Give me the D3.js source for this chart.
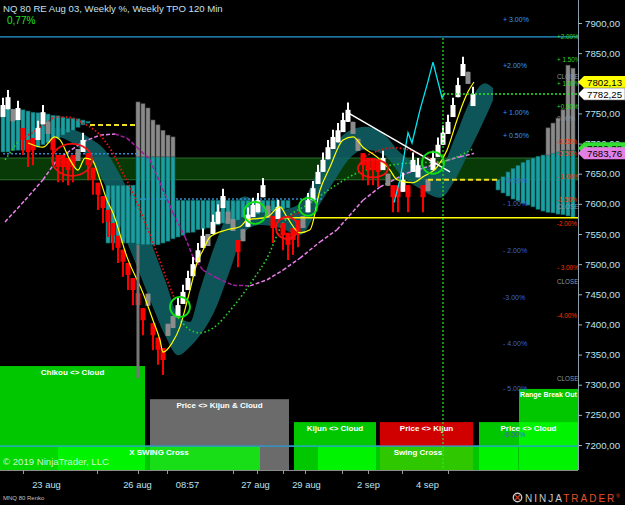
<!DOCTYPE html>
<html>
<head>
<meta charset="utf-8">
<script src="https://cdn.jsdelivr.net/npm/d3@7"></script>
<style>
  html, body { margin: 0; padding: 0; background: #000; }
  svg { display: block; font-family: "Liberation Sans", Arial, sans-serif; }
</style>
</head>
<body>
<div id="chart"></div>
<script>
// --- renko bars (one per bar index) ---
const barClose = [
  7764,7777,7747,7759,7706,7686,7689,7726,7752,7726,
  7689,7661,7661,7656,7661,7681,7706,7664,7640,7615,
  7593,7570,7548,7527,7504,7482,7457,7432,7407,7441,
  7382,7358,7341,7391,7404,7432,7454,7477,7500,7523,
  7547,7540,7570,7587,7613,7577,7565,7520,7548,7582,
  7598,7606,7631,7587,7560,7595,7548,7532,7540,7553,
  7570,7606,7626,7653,7673,7694,7711,7722,7739,7756,
  7726,7698,7664,7656,7656,7653,7676,7640,7611,7611,
  7640,7611,7673,7664,7611,7631,7676,7698,7718,7736,
  7764,7797,7832,7809,7782.25
];
// u = up (white), d = down (red), g = gray
const barKind = ("uuguddduug" + "dddddguddd" + "dddddddddg" + "dddgguuuuu" + "uguuuggdgu" +
                 "uuugdudddd" + "guuuuuuuuu" + "ggddddugdd" + "uduudguuuu" + "uuugu").split("");

// --- indicator lines (bar index, price) ---
const yellowIdx = [5,8,10.4,11.4,13.4,15,16.4,17.8,19.4,20.8,22,24.8,28,30,31.4,32,32.8,33.8,35.4,37.4,38.8,40,41.4,44.8,47.4,48.8,52.8,55.4,56.8,59.4,61.4,63.4,65.4,68,70,72,74.8,77.4,78.8,82,84,86.8,88.8,90.8,92,93,94.2];
const yellowVal = [7701,7694,7711,7706,7673,7656,7676,7673,7640,7606,7585,7512,7452,7407,7374,7354,7358,7369,7396,7457,7502,7523,7545,7557,7562,7573,7578,7595,7578,7552,7557,7623,7661,7706,7711,7694,7678,7656,7640,7635,7645,7661,7689,7739,7767,7786,7802.13];

const pinkIdx = [0.4,4.4,8,10.8,16,19.4,22.4,24.8,26.8,29.4,31.4,34,36.4,38,40,42.8,46,49.4,52.8,56,59.4,63.4,66.8,72,75.4,80.8,84,87.4,91.4,94.2];
const pinkVal = [7570,7606,7640,7673,7703,7714,7716,7709,7694,7673,7635,7585,7545,7512,7490,7477,7465,7464,7474,7490,7510,7537,7557,7606,7628,7651,7659,7669,7678,7683.76];

const redIdx = [4.4,7.4,10.8,12.8,16,19.4,22,24,26,28,30.8,32.8,34.4,34.5,55,59.4,59.5,72.4,75.4,78,81.4,84.4,87.4];
const redVal = [7711,7726,7744,7744,7734,7714,7684,7651,7618,7578,7518,7474,7441,null,7572,7586,null,7679,7689,7693,7689,7679,7668];

const greenIdx = [0.4,3,3.1,35,37.4,39.4,42,46,50,52.8,56,61.4,66,70.8,75.4,82,86.8,90.8,94.2];
const greenVal = [7673,7703,null,7411,7391,7386,7394,7429,7474,7510,7568,7601,7628,7651,7661,7668,7669,7678,7692.38];

const cyanIdx = [78.2,79.4,80.4,81,81.8,83.4,84.8,86,87.8,88.4];
const cyanVal = [7602,7640,7689,7718,7701,7756,7797,7835,7776,7784];

const trendIdx = [68.6, 89.4];
const trendVal = [7753, 7653];

// --- cloud ---
const cloudIdx = [10.4,14.4,17.4,20.4,23.4,26.4,29.4,32.4,35,37.4,39.4,42.4,45.4,48.4,51.4,55.4,59.4,63.4,66.4,69.4,72.4,76.4,79.4,83.4,87.4,90.4,93.4,96.4,98];
const cloudUp  = [7726,7722,7709,7689,7648,7598,7540,7474,7416,7404,7457,7532,7590,7612,7598,7590,7600,7660,7700,7722,7728,7714,7685,7665,7660,7710,7770,7800,7792];
const cloudLow = [7713,7698,7673,7631,7565,7504,7441,7382,7349,7363,7382,7424,7490,7555,7565,7560,7548,7600,7640,7676,7690,7680,7650,7625,7610,7640,7690,7742,7772];

// --- TPO profile columns ---
const profAStart = 0;
const profATop = [7759,7759,7757,7756,7756,7754,7752,7751,7751,7749,7747,7746,7744,7742,7742,7741,7739,7737];
const profABot = [7686,7686,7688,7689,7689,7691,7693,7694,7698,7701,7706,7709,7714,7718,7722,7727,7731,7734];
const profBStart = 21;
const profBTop = [7631,7631,7631,7631,7631,7631,7678,7678,7678,7678,7678,7678,7678,7678,
                  7606,7606,7606,7606,7606,7606,7606,7606,7606,7606,7606,7606,7606,7606,7606,7606,7606,7606,7606,7606,7606,7606,7606];
const profBBot = [7535,7535,7535,7535,7535,7535,7532,7532,7532,7532,7532,7535,7538,7542,7545,7548,7552,7553,7557,7558,7560,7563,7565,7568,7570,7572,7573,7577,7580,7582,7583,7585,7586,7588,7590,7591,7593];
const grayBStart = 27;
const grayBTop = [7769,7766,7759,7739,7731,7722,7714,7711];
const grayBBot = [7678,7678,7678,7678,7678,7678,7678,7678];
const stemIdx = [27];
const stemTop = [7532];
const stemBot = [7311];
const profCStart = 99;
const profCTop = [7640,7645,7653,7659,7664,7669,7673,7676,7679,7681,7684,7686,7689,7689,7689,7689];
const profCBot = [7623,7618,7613,7608,7605,7601,7598,7595,7591,7588,7586,7585,7583,7582,7580,7578];
const grayCStart = 109;
const grayCTop = [7726,7734,7742,7756,7830,7825];
const grayCBot = [7681,7684,7686,7689,7689,7689];

// --- levels ---
const valueArea = [7640, 7676];
const blueLevels = [7877, 7198];
const yellowSolid = { val: 7577, from: 56 };
const yellowDashVal = [7640, 7731];
const yellowDashFrom = [85, 17.4];
const yellowDashTo = [99, 26.8];
const blueDotVal = [7683, 7608];
const blueDotFrom = [0, 27.4];
const blueDotTo = [27, 64];
const nowIdx = 88;

// --- markers ---
const greenCircIdx = [35.4, 50.4, 61, 86];
const greenCircVal = [7429, 7585, 7595, 7668];
const greenCircR = [10, 11, 9, 11];
const redEllIdx = [13.8, 74, 56.8];
const redEllVal = [7673, 7659, 7560];
const redEllRx = [20, 15, 11];
const redEllRy = [16, 9, 11];

// --- weekly % labels ---
const pctLeftText = ["+ 3.00%","+2.00%","+ 1.00%","+ 0.50%","- 0.50%","- 1.00%","- 2.00%","-3.00%","- 4.00%","- 5.00%","-6.00%"];
const pctLeftVal = [7905,7830,7752,7714,7638,7600,7522,7445,7369,7293,7217];
const pctRightText = ["+2.00%","+ 1.50%","CLOSE","+ 1.00%","+0.50%","0.00%","-0.25%","-0.50%","- 1.00%","-1.50%","CLOSE","-2.00%","- 3.00%","CLOSE","-4.00%","CLOSE"];
const pctRightVal = [7877,7839,7812,7800,7761,7742,7704,7684,7646,7608,7595,7568,7495,7472,7414,7311];

// --- signal boxes ---
const boxLabel = ["Chikou <> Cloud", "", "Price <> Kijun & Cloud", "X SWING Cross", "Kijun <> Cloud", "Price <> Kijun", "Swing Cross", "Price <> Cloud", "Range Break Out"];
const boxFrom  = [-0.6, -0.6, 29.4, 11, 58.2, 75.4, 63, 95.2, 103.2];
const boxTo    = [28.4, 11, 57.2, 51.4, 74.6, 94, 103, 115, 115];
const boxTop   = [7331, 7198, 7276, 7198, 7238, 7238, 7198, 7238, 7293];
const boxColor = ["rgba(0,255,0,0.78)", "rgba(0,255,0,0.3)", "#6b6b6b", "rgba(0,255,0,0.78)", "rgba(0,255,0,0.78)",
                  "rgba(255,0,0,0.82)", "rgba(0,255,0,0.78)", "rgba(0,255,0,0.78)", "rgba(0,255,0,0.78)"];

// --- axes ---
const yTicks = [7200,7250,7300,7350,7400,7450,7500,7550,7600,7650,7700,7750,7800,7850,7900];
const xTicks = [4,18.8,27,32.8,46,50.8,56,60.4,67.8,73,79.8,89];
const xLabelIdx = [8.6,26.8,36.8,50.4,60.6,73,84.8];
const xLabelText = ["23 aug","26 aug","08:57","27 aug","29 aug","2 sep","4 sep"];

// --- price tags ---
const tagVal = [7802.13, 7782.25, 7692.38, 7683.76];
const tagFill = ["#ffff00", "#ffffff", "#33dd33", "#e37fe3"];

const W = 625, H = 505, plotW = 578, plotH = 470;
const x = d3.scaleLinear().domain([0, 115]).range([3, 578]);
const y = d3.scaleLinear().domain([7200, 7900]).range([445, 23]);
const fmt = v => d3.format(".2f")(v).replace(".", ",");

const svg = d3.select("#chart").append("svg").attr("width", W).attr("height", H);
svg.append("rect").attr("width", W).attr("height", H).attr("fill", "#000");
svg.append("clipPath").attr("id", "plotClip")
  .append("rect").attr("x", 0).attr("y", 0).attr("width", plotW).attr("height", plotH);
const plot = svg.append("g").attr("clip-path", "url(#plotClip)");

// value area band
plot.append("rect")
  .attr("x", -1).attr("width", plotW + 2)
  .attr("y", y(valueArea[1])).attr("height", y(valueArea[0]) - y(valueArea[1]))
  .attr("fill", "#073a07").attr("stroke", "#2e6e2e").attr("stroke-width", 1);

// cloud
const cloud = d3.zip(cloudIdx, cloudUp, cloudLow);
plot.append("path")
  .attr("d", d3.area().x(d => x(d[0])).y0(d => y(d[2])).y1(d => y(d[1])).curve(d3.curveMonotoneX)(cloud))
  .attr("fill", "#0f6468").attr("opacity", 0.85);

// profile columns
const drawCols = (start, tops, bots, fill, stroke) => {
  plot.append("g").selectAll("rect")
    .data(d3.zip(tops, bots))
    .enter().append("rect")
      .attr("x", (d, i) => x(start + i) - 2)
      .attr("width", 4)
      .attr("y", d => y(d[0]))
      .attr("height", d => y(d[1]) - y(d[0]))
      .attr("fill", fill).attr("stroke", stroke).attr("stroke-width", 0.6);
};
drawCols(profAStart, profATop, profABot, "#1c9fa0", "#0b5a5a");
drawCols(profBStart, profBTop, profBBot, "#1c9fa0", "#0b5a5a");
drawCols(profCStart, profCTop, profCBot, "#1c9fa0", "#0b5a5a");
drawCols(grayBStart, grayBTop, grayBBot, "#8a8a8a", "#555");
drawCols(grayCStart, grayCTop, grayCBot, "#8a8a8a", "#555");

// horizontal levels
blueLevels.forEach(v => plot.append("line")
  .attr("x1", 0).attr("x2", plotW).attr("y1", y(v)).attr("y2", y(v))
  .attr("stroke", "#2a9bd8").attr("stroke-width", 1.2));
blueDotVal.forEach((v, i) => plot.append("line")
  .attr("x1", x(blueDotFrom[i])).attr("x2", x(blueDotTo[i])).attr("y1", y(v)).attr("y2", y(v))
  .attr("stroke", "#2a8fd0").attr("stroke-width", 1.5).attr("stroke-dasharray", "2,2"));

// curves
const lineGen = d3.line().defined(d => d[1] != null).x(d => x(d[0])).y(d => y(d[1])).curve(d3.curveMonotoneX);
// magenta: pink while rising, purple while falling
for (let k = 0; k < pinkIdx.length - 1; k++) {
  plot.append("path")
    .attr("d", lineGen([[pinkIdx[k], pinkVal[k]], [pinkIdx[k + 1], pinkVal[k + 1]]]))
    .attr("fill", "none")
    .attr("stroke", pinkVal[k + 1] >= pinkVal[k] ? "#ea80ea" : "#a21ea2")
    .attr("stroke-width", 1.5).attr("stroke-dasharray", "4,2");
}
plot.append("path").attr("d", lineGen(d3.zip(redIdx, redVal)))
  .attr("fill", "none").attr("stroke", "#e01212").attr("stroke-width", 1.8).attr("stroke-dasharray", "1.6,2");
plot.append("path").attr("d", lineGen(d3.zip(greenIdx, greenVal)))
  .attr("fill", "none").attr("stroke", "#2ad02a").attr("stroke-width", 1.6).attr("stroke-dasharray", "1.6,2.4");

// renko bars
const bars = plot.append("g");
barClose.forEach((c, i) => {
  const k = barKind[i];
  const top = k === "u" ? c : (k === "d" ? c + 20 : c + 10);
  const bot = k === "u" ? c - 20 : (k === "d" ? c : c - 10);
  const col = k === "u" ? "#ffffff" : (k === "d" ? "#ff0000" : "#8c8c8c");
  // wick
  bars.append("line")
    .attr("x1", x(i)).attr("x2", x(i))
    .attr("y1", y(k === "u" ? top + 12 : top))
    .attr("y2", y(k === "d" ? bot - 25 : bot))
    .attr("stroke", col).attr("stroke-width", 2);
  bars.append("rect")
    .attr("x", x(i) - 2.5).attr("width", 5)
    .attr("y", y(top)).attr("height", y(bot) - y(top))
    .attr("fill", col);
});

// yellow, cyan, trendline
plot.append("path").attr("d", lineGen(d3.zip(yellowIdx, yellowVal)))
  .attr("fill", "none").attr("stroke", "#ffff00").attr("stroke-width", 1.2);
plot.append("path").attr("d", d3.line().x(d => x(d[0])).y(d => y(d[1]))(d3.zip(cyanIdx, cyanVal)))
  .attr("fill", "none").attr("stroke", "#00e6f0").attr("stroke-width", 1.3);
plot.append("path").attr("d", d3.line().x(d => x(d[0])).y(d => y(d[1]))(d3.zip(trendIdx, trendVal)))
  .attr("fill", "none").attr("stroke", "#ffffff").attr("stroke-width", 1.5);

// yellow levels
plot.append("line")
  .attr("x1", x(yellowSolid.from)).attr("x2", plotW).attr("y1", y(yellowSolid.val)).attr("y2", y(yellowSolid.val))
  .attr("stroke", "#ffff00").attr("stroke-width", 1.6);
yellowDashVal.forEach((v, i) => plot.append("line")
  .attr("x1", x(yellowDashFrom[i])).attr("x2", x(yellowDashTo[i])).attr("y1", y(v)).attr("y2", y(v))
  .attr("stroke", "#f0e020").attr("stroke-width", 2).attr("stroke-dasharray", "5,3"));

// circles
greenCircIdx.forEach((v, i) => plot.append("circle")
  .attr("cx", x(v)).attr("cy", y(greenCircVal[i])).attr("r", greenCircR[i])
  .attr("fill", "none").attr("stroke", "#10e010").attr("stroke-width", 1.8));
redEllIdx.forEach((v, i) => plot.append("ellipse")
  .attr("cx", x(v)).attr("cy", y(redEllVal[i])).attr("rx", redEllRx[i]).attr("ry", redEllRy[i])
  .attr("fill", "none").attr("stroke", "#f01010").attr("stroke-width", 1.8));

// signal boxes
boxLabel.forEach((t, i) => plot.append("rect")
  .attr("x", x(boxFrom[i])).attr("width", x(boxTo[i]) - x(boxFrom[i]))
  .attr("y", y(boxTop[i])).attr("height", plotH - y(boxTop[i]))
  .attr("fill", boxColor[i]));
plot.append("rect")
  .attr("x", x(stemIdx[0]) - 1.5).attr("width", 3)
  .attr("y", y(stemTop[0])).attr("height", y(stemBot[0]) - y(stemTop[0]))
  .attr("fill", "#777");
boxLabel.forEach((t, i) => {
  if (!t) return;
  plot.append("text")
    .attr("x", (x(boxFrom[i]) + x(Math.min(boxTo[i], 115))) / 2)
    .attr("y", y(boxTop[i]) + 8.5)
    .attr("text-anchor", "middle")
    .attr("font-size", t === "Range Break Out" ? 7 : 8)
    .attr("font-weight", "bold").attr("fill", "#fff")
    .text(t);
});
// blue level line crosses the boxes
plot.append("line").attr("x1", 0).attr("x2", plotW).attr("y1", y(blueLevels[1])).attr("y2", y(blueLevels[1]))
  .attr("stroke", "#2a9bd8").attr("stroke-width", 1.2);

// now lines
const lastClose = barClose[barClose.length - 1];
plot.append("line")
  .attr("x1", x(nowIdx)).attr("x2", plotW).attr("y1", y(lastClose)).attr("y2", y(lastClose))
  .attr("stroke", "#22ee22").attr("stroke-width", 1.3).attr("stroke-dasharray", "2,2");
plot.append("line")
  .attr("x1", x(nowIdx)).attr("x2", x(nowIdx)).attr("y1", 38).attr("y2", plotH)
  .attr("stroke", "#22ee22").attr("stroke-width", 1.2).attr("stroke-dasharray", "2,2");

// weekly % labels
pctLeftText.forEach((t, i) => plot.append("text")
  .attr("x", 503).attr("y", y(pctLeftVal[i]) + 2.5)
  .attr("font-size", 7)
  .attr("fill", t.startsWith("+") ? "#3a9bea" : "#3c63d8")
  .text(t));
pctRightText.forEach((t, i) => plot.append("text")
  .attr("x", 557).attr("y", y(pctRightVal[i]) + 2.5)
  .attr("font-size", 6.3)
  .attr("fill", t.startsWith("+") ? "#2ed82e" : (t.startsWith("-") ? "#ff3000" : "#8a97a6"))
  .text(t));

// copyright
plot.append("text").attr("x", 3).attr("y", 465)
  .attr("font-size", 9.6).attr("fill", "rgba(255,255,255,0.8)")
  .text("\u00a9 2019 NinjaTrader, LLC");

// --- axes ---
svg.append("line").attr("x1", plotW + 0.5).attr("x2", plotW + 0.5).attr("y1", 0).attr("y2", plotH)
  .attr("stroke", "#8ea2ae").attr("stroke-width", 1);
svg.append("line").attr("x1", 0).attr("x2", plotW).attr("y1", plotH + 0.5).attr("y2", plotH + 0.5)
  .attr("stroke", "#8a8a8a").attr("stroke-width", 1);

const gy = svg.append("g")
  .attr("transform", `translate(${plotW},0)`)
  .call(d3.axisRight(y).tickValues(yTicks).tickSize(4).tickPadding(3).tickFormat(fmt));
gy.select(".domain").remove();
gy.selectAll("line").attr("stroke", "#9fb4c0");
gy.selectAll("text").attr("fill", "#b9e0f2").attr("font-size", 9.7)
  .attr("font-family", "'Liberation Sans', Arial, sans-serif");

const gx = svg.append("g")
  .attr("transform", `translate(0,${plotH})`)
  .call(d3.axisBottom(x).tickValues(xTicks).tickSize(4).tickFormat(""));
gx.select(".domain").remove();
gx.selectAll("line").attr("stroke", "#9a9a9a");

const gxl = svg.append("g")
  .attr("transform", `translate(0,${plotH})`)
  .call(d3.axisBottom(x).tickValues(xLabelIdx).tickSize(0).tickPadding(11).tickFormat((d, i) => xLabelText[i]));
gxl.select(".domain").remove();
gxl.selectAll("text").attr("fill", "#b9e0f2").attr("font-size", 9.4)
  .attr("font-family", "'Liberation Sans', Arial, sans-serif");

// --- price tags ---
tagVal.forEach((v, i) => {
  const yc = y(v);
  svg.append("path")
    .attr("d", `M${plotW},${yc} L${plotW + 6},${yc - 6} L${W},${yc - 6} L${W},${yc + 6} L${plotW + 6},${yc + 6} Z`)
    .attr("fill", tagFill[i]).attr("stroke", i === 1 ? "#666" : "none").attr("stroke-width", 0.6);
  svg.append("text")
    .attr("x", plotW + 9).attr("y", yc + 3.6)
    .attr("font-size", 9.7).attr("fill", "#000")
    .text(fmt(v));
});

// --- title & footer ---
svg.append("text").attr("x", 3).attr("y", 12)
  .attr("font-size", 9.6).attr("fill", "#c4e0f0")
  .text("NQ 80 RE Aug 03, Weekly %, Weekly TPO 120 Min");
svg.append("text").attr("x", 7).attr("y", 24)
  .attr("font-size", 10).attr("fill", "#22e022")
  .text("0,77%");
svg.append("text").attr("x", 3).attr("y", 500)
  .attr("font-size", 6).attr("fill", "#c0c0c0")
  .text("MNQ 80 Renko");

// logo
svg.append("circle").attr("cx", 517.5).attr("cy", 497.5).attr("r", 4.2)
  .attr("fill", "none").attr("stroke", "#c8c8c8").attr("stroke-width", 1.4);
svg.append("path").attr("d", "M515,495 L520,500 M520,495 L515,500")
  .attr("stroke", "#d04020").attr("stroke-width", 1.2);
const logo = svg.append("text").attr("x", 525).attr("y", 502)
  .attr("font-size", 10).attr("letter-spacing", 2);
logo.append("tspan").attr("fill", "#c8c8c8").text("NINJA");
logo.append("tspan").attr("fill", "#e4502a").text("TRADER");
logo.append("tspan").attr("fill", "#e4502a").attr("font-size", 5).attr("dy", -4).text("\u00ae");
</script>
</body>
</html>
